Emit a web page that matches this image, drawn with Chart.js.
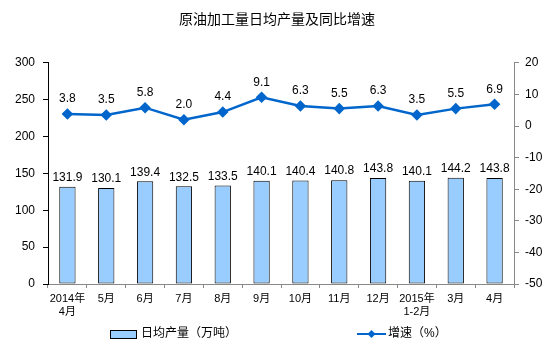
<!DOCTYPE html>
<html>
<head>
<meta charset="utf-8">
<script src="https://cdn.jsdelivr.net/npm/chart.js@4"></script>
<style>
  html, body { margin: 0; padding: 0; background: #fff; }
  #wrap { width: 554px; height: 353px; }
</style>
</head>
<body>
<div id="wrap"><canvas id="chartYuanyou" width="554" height="353"></canvas></div>
<script>
const meses = [
  ['2014年', '4月'], '5月', '6月', '7月', '8月', '9月',
  '10月', '11月', '12月', ['2015年', '1-2月'], '3月', '4月'
];
const produccionDiaria = [131.9, 130.1, 139.4, 132.5, 133.5, 140.1, 140.4, 140.8, 143.8, 140.1, 144.2, 143.8];
const crecimiento = [3.8, 3.5, 5.8, 2.0, 4.4, 9.1, 6.3, 5.5, 6.3, 3.5, 5.5, 6.9];
const ticksIzq = [0, 50, 100, 150, 200, 250, 300];
const ticksDer = [-50, -40, -30, -20, -10, 0, 10, 20];

const fuente = "'Liberation Sans', Arial, 'Noto Sans CJK SC', sans-serif";
const azulBarra = '#99CCFF';
const azulLinea = '#0066CC';

// etiquetas de valores y leyenda dibujadas a mano
const etiquetas = {
  id: 'etiquetas',
  afterDatasetsDraw(chart) {
    const c = chart.ctx;
    c.save();
    c.fillStyle = '#000';
    c.font = '12px ' + fuente;
    c.textAlign = 'center';
    c.textBaseline = 'bottom';
    chart.getDatasetMeta(0).data.forEach((b, i) => {
      c.fillText(produccionDiaria[i].toFixed(1), b.x, b.y - 3);
    });
    chart.getDatasetMeta(1).data.forEach((p, i) => {
      c.fillText(crecimiento[i].toFixed(1), p.x, p.y - 9);
    });

    // leyenda
    const ly = 334;
    c.fillStyle = azulBarra;
    c.strokeStyle = '#000';
    c.lineWidth = 1;
    c.fillRect(110, ly - 4, 26, 8);
    c.strokeRect(110.5, ly - 3.5, 26, 8);
    c.fillStyle = '#000';
    c.textAlign = 'left';
    c.textBaseline = 'middle';
    c.font = '12px ' + fuente;
    c.fillText('日均产量（万吨）', 141, ly);

    c.strokeStyle = azulLinea;
    c.lineWidth = 2;
    c.beginPath();
    c.moveTo(357, ly);
    c.lineTo(386, ly);
    c.stroke();
    c.fillStyle = azulLinea;
    c.beginPath();
    c.moveTo(371.5, ly - 4);
    c.lineTo(375.5, ly);
    c.lineTo(371.5, ly + 4);
    c.lineTo(367.5, ly);
    c.closePath();
    c.fill();
    c.fillStyle = '#000';
    c.fillText('增速（%）', 388, ly);
    c.restore();
  }
};

const ctx = document.getElementById('chartYuanyou');
new Chart(ctx, {
  type: 'bar',
  data: {
    labels: meses,
    datasets: [{
      type: 'bar',
      label: '日均产量（万吨）',
      data: produccionDiaria,
      backgroundColor: azulBarra,
      borderColor: '#000',
      borderWidth: 1,
      borderSkipped: false,
      barPercentage: 0.42,
      categoryPercentage: 1,
      yAxisID: 'y',
      order: 2
    }, {
      type: 'line',
      label: '增速（%）',
      data: crecimiento,
      borderColor: azulLinea,
      backgroundColor: azulLinea,
      borderWidth: 2.5,
      pointStyle: 'rectRot',
      pointRadius: 4,
      tension: 0,
      yAxisID: 'y1',
      order: 1
    }]
  },
  options: {
    responsive: false,
    animation: false,
    layout: { padding: { top: 0, bottom: 29, left: 0, right: 0 } },
    plugins: {
      legend: { display: false },
      tooltip: { enabled: false },
      title: {
        display: true,
        text: '原油加工量日均产量及同比增速',
        color: '#000',
        font: { family: fuente, size: 14, weight: 'normal' },
        padding: { top: 12, bottom: 34 }
      }
    },
    scales: {
      x: {
        grid: { display: true, drawOnChartArea: false, offset: true, tickLength: 4, color: '#888' },
        border: { color: '#888' },
        ticks: { color: '#000', font: { family: fuente, size: 11 }, maxRotation: 0, autoSkip: false, padding: 4 },
        afterFit(s) { s.height = 40; }
      },
      y: {
        position: 'left',
        min: 0, max: 300,
        afterBuildTicks(s) { s.ticks = ticksIzq.map(v => ({ value: v })); },
        grid: { drawOnChartArea: false, tickLength: 5, color: '#000' },
        border: { color: '#000' },
        ticks: { color: '#000', font: { family: fuente, size: 12 }, padding: 8 },
        afterFit(s) { s.width = 48; }
      },
      y1: {
        position: 'right',
        min: -50, max: 20,
        afterBuildTicks(s) { s.ticks = ticksDer.map(v => ({ value: v })); },
        grid: { drawOnChartArea: false, tickLength: 5, color: '#888' },
        border: { color: '#888' },
        ticks: { color: '#000', font: { family: fuente, size: 12 }, padding: 6 },
        afterFit(s) { s.width = 40; }
      }
    }
  },
  plugins: [etiquetas]
});
</script>
</body>
</html>
